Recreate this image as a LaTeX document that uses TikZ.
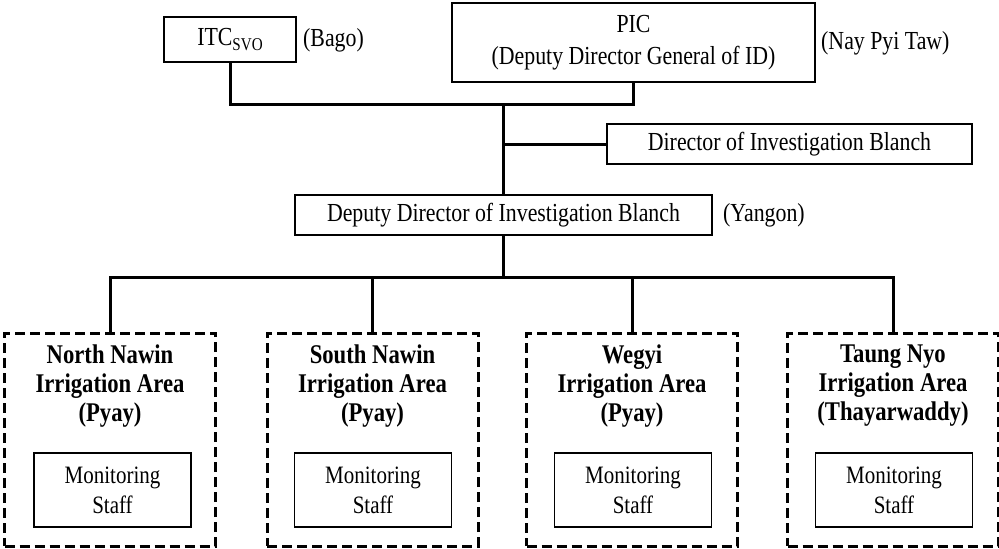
\documentclass[tikz,border=0pt]{standalone}
\usepackage{fontspec}
\setmainfont{Liberation Serif}[FakeStretch=0.84]
\begin{document}
\begin{tikzpicture}[x=1pt,y=-1pt,
  sbox/.style={draw, line width=1.3pt, inner sep=0pt, align=center, font=\fontsize{26}{32}\selectfont},
  lbl/.style={inner sep=0pt, anchor=west, font=\fontsize{26}{30}\selectfont},
  area/.style={draw, line width=3pt, dash pattern=on 10pt off 5pt, minimum width=211pt, minimum height=213pt, inner sep=0pt},
  title/.style={inner sep=0pt, align=center, font=\fontsize{27}{29}\selectfont\bfseries},
  staff/.style={draw, line width=1.3pt, minimum width=157pt, minimum height=74pt, inner sep=0pt, align=center, font=\fontsize{25}{30}\selectfont},
  conn/.style={line width=3pt}]
\useasboundingbox (0,0) rectangle (999,549);

\node[sbox, minimum width=132pt, minimum height=45pt] (itc) at (230,39.5) {ITC\raisebox{-0.35ex}{\fontsize{18}{18}\selectfont SVO}};
\node[lbl] (bago) at (303,40) {(Bago)};
\node[sbox, minimum width=363pt, minimum height=79pt] (pic) at (633.5,42.5) {PIC\\(Deputy Director General of ID)};
\node[lbl] (npt) at (821,43) {(Nay Pyi Taw)};
\node[sbox, minimum width=365pt, minimum height=40pt] (dir) at (789.5,144) {Director of Investigation Blanch};
\node[sbox, minimum width=417pt, minimum height=40pt] (dep) at (503.5,215) {Deputy Director of Investigation Blanch};
\node[lbl] (ygn) at (723,215) {(Yangon)};

\node[area] (a1) at (110,439.5) {};
\node[area] (a2) at (372.5,439.5) {};
\node[area] (a3) at (632,439.5) {};
\node[area] (a4) at (893,439.5) {};

\node[title] (t1) at (110,386) {North Nawin\\Irrigation Area\\(Pyay)};
\node[title] (t2) at (372.5,386) {South Nawin\\Irrigation Area\\(Pyay)};
\node[title] (t3) at (632,386) {Wegyi\\Irrigation Area\\(Pyay)};
\node[title] (t4) at (893,386) {Taung Nyo\\Irrigation Area\\(Thayarwaddy)};

\node[staff] (s1) at (112.5,490) {Monitoring\\Staff};
\node[staff] (s2) at (373,490) {Monitoring\\Staff};
\node[staff] (s3) at (633,490) {Monitoring\\Staff};
\node[staff] (s4) at (894,490) {Monitoring\\Staff};

\draw[conn] (itc.south) -- ++(0,42) -| (pic.south);
\coordinate (j1) at (dep.north |- 0,104);
\draw[conn] (j1) -- (dep.north);
\draw[conn] (dir.west) -- (dir.west -| dep.north);
\draw[conn] (dep.south) -- ++(0,42) -| (a1.north);
\draw[conn] (dep.south) -- ++(0,42) -| (a2.north);
\draw[conn] (dep.south) -- ++(0,42) -| (a3.north);
\draw[conn] (dep.south) -- ++(0,42) -| (a4.north);
\end{tikzpicture}
\end{document}
